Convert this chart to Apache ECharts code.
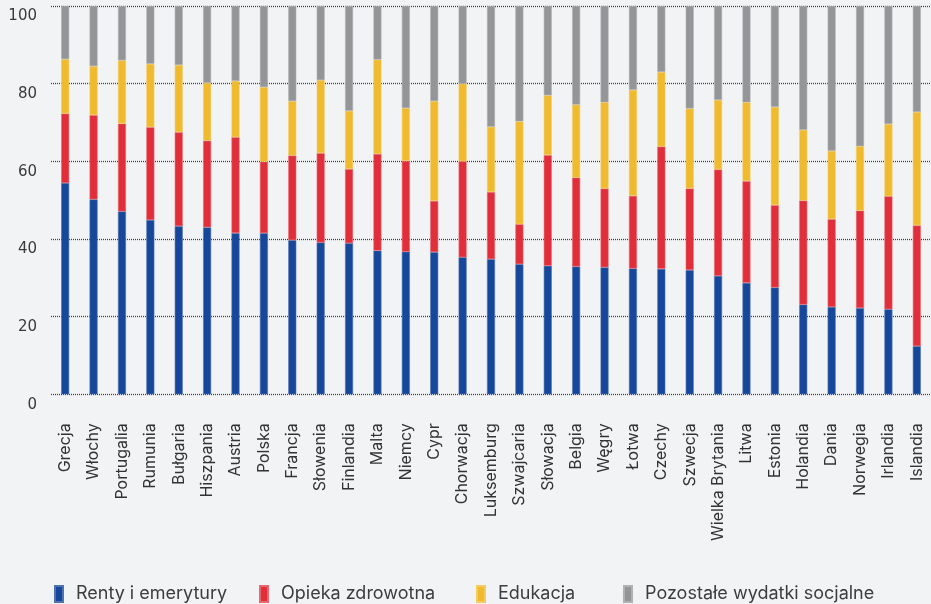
<!DOCTYPE html>
<html>
<head>
<meta charset="utf-8">
<script src="https://cdn.jsdelivr.net/npm/echarts@6/dist/echarts.min.js"></script>
<style>
  html, body { margin: 0; padding: 0; background: #f2f3f5; }
  #chart { width: 931px; height: 604px; }
</style>
</head>
<body>
<div id="chart"></div>
<script>
// Struktura wydatków socjalnych (% całości) w krajach europejskich
const countries = ['Grecja','Włochy','Portugalia','Rumunia','Bułgaria','Hiszpania','Austria','Polska','Francja','Słowenia','Finlandia','Malta','Niemcy','Cypr','Chorwacja','Luksemburg','Szwajcaria','Słowacja','Belgia','Węgry','Łotwa','Czechy','Szwecja','Wielka Brytania','Litwa','Estonia','Holandia','Dania','Norwegia','Irlandia','Islandia'];

const renty    = [54.4, 50.2, 47.1, 44.9, 43.3, 43.0, 41.5, 41.5, 39.7, 39.1, 38.9, 37.0, 36.7, 36.6, 35.3, 34.8, 33.5, 33.1, 32.9, 32.7, 32.4, 32.3, 32.0, 30.5, 28.7, 27.5, 23.1, 22.5, 22.2, 21.9, 12.4];
const zdrowie  = [17.9, 21.7, 22.6, 23.9, 24.2, 22.3, 24.7, 18.4, 21.8, 23.0, 19.1, 24.9, 23.4, 13.2, 24.7, 17.3, 10.3, 28.5, 22.9, 20.3, 18.7, 31.5, 21.0, 27.4, 26.2, 21.2, 26.8, 22.6, 25.1, 29.1, 31.1];
const edukacja = [14.0, 12.6, 16.3, 16.3, 17.3, 14.9, 14.5, 19.2, 14.0, 18.8, 15.0, 24.3, 13.6, 25.7, 20.0, 16.8, 26.5, 15.4, 18.8, 22.2, 27.3, 19.2, 20.6, 17.9, 20.3, 25.3, 18.2, 17.6, 16.6, 18.6, 29.2];
const pozostale = [13.7, 15.5, 14.0, 14.9, 15.2, 19.8, 19.3, 20.9, 24.5, 19.1, 27.0, 13.8, 26.3, 24.5, 20.0, 31.1, 29.7, 23.0, 25.4, 24.8, 21.6, 17.0, 26.4, 24.2, 24.8, 26.0, 31.9, 37.3, 36.1, 30.4, 27.3];

const yTicks = [0, 20, 40, 60, 80, 100];

const seriesNames = ['Renty i emerytury', 'Opieka zdrowotna', 'Edukacja', 'Pozostałe wydatki socjalne'];
const seriesData = [renty, zdrowie, edukacja, pozostale];
const colors = ['#17479a', '#e12e3b', '#f0ba2e', '#949597'];
const borderColors = ['#4f73b0', '#ea6670', '#f4cc66', '#b0b1b3'];

const FONT = 'Inter, "Noto Sans", sans-serif';
const legendLeft = [54, 259, 476, 623];

const chart = echarts.init(document.getElementById('chart'), null, { renderer: 'canvas' });

chart.setOption({
  backgroundColor: '#f2f3f5',
  animation: false,
  color: colors,
  textStyle: { fontFamily: FONT },
  grid: { left: 51, top: 6, width: 884, height: 388.3, containLabel: false },
  legend: seriesNames.map((name, i) => ({
    data: [name],
    left: legendLeft[i],
    top: 585,
    padding: 0,
    icon: 'rect',
    itemWidth: 8,
    itemHeight: 16,
    selectedMode: false,
    textStyle: { fontFamily: FONT, fontSize: 18, color: '#3d3d3d', padding: [0, 0, 0, 8] }
  })),
  xAxis: {
    type: 'category',
    data: countries,
    axisLine: { show: false },
    axisTick: { show: false },
    axisLabel: {
      rotate: 90,
      interval: 0,
      margin: 29,
      fontFamily: FONT,
      fontSize: 16,
      color: '#333'
    }
  },
  yAxis: {
    type: 'value',
    min: yTicks[0],
    max: yTicks[yTicks.length - 1],
    interval: yTicks[1] - yTicks[0],
    axisLine: { show: false },
    axisTick: { show: false },
    axisLabel: {
      margin: 14,
      fontFamily: '"DejaVu Sans", sans-serif',
      fontSize: 15,
      color: '#3a3a3a',
      verticalAlign: 'top',
      padding: [3, 0, 0, 0]
    },
    splitLine: {
      lineStyle: { color: '#3f3f3f', width: 1.3, type: [1, 1] }
    }
  },
  series: seriesNames.map((name, i) => ({
    name: name,
    type: 'bar',
    stack: 'total',
    barWidth: 8,
    data: seriesData[i],
    itemStyle: { color: colors[i], borderColor: borderColors[i], borderWidth: 0.6 },
    z: 3
  }))
});
</script>
</body>
</html>
